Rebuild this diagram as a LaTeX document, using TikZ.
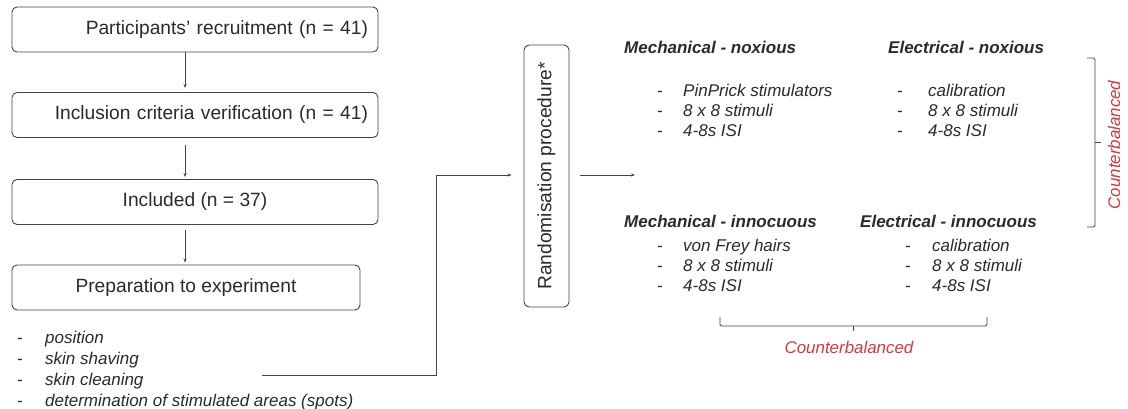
\documentclass[tikz,border=0pt]{standalone}
\usepackage{fontspec}
\setmainfont{Liberation Sans}
\usetikzlibrary{arrows.meta}
\definecolor{ink}{HTML}{2A2A2A}
\definecolor{linegray}{HTML}{444444}
\definecolor{cbred}{HTML}{D8383A}
\tikzset{
  x=1pt, y=-1pt,
  stepbox/.style={draw=linegray, line width=0.9pt, rounded corners=5pt, text=ink,
    minimum height=45pt, font=\fontsize{19.2}{22}\selectfont},
  flow/.style={draw=linegray, line width=0.8pt, -{Stealth[length=4pt,width=3pt]}},
  brace/.style={draw=linegray, line width=0.9pt},
  heading/.style={anchor=base west, inner sep=0pt, text=ink, font=\fontsize{17}{20}\selectfont\bfseries\itshape},
  items/.style={anchor=north west, inner sep=0pt, align=left, text=ink, font=\fontsize{17}{20}\selectfont\itshape},
  cb/.style={text=cbred, inner sep=0pt, font=\fontsize{16.9}{20}\selectfont\itshape},
}
\newcommand{\itm}[2][26pt]{\makebox[#1][l]{\upshape -}#2}
\begin{document}
\begin{tikzpicture}
\useasboundingbox (0,0) rectangle (1128,409);

% left column of steps
\node[stepbox, minimum width=366pt, text width=346pt, align=right] (recruit) at (195,29.5) {Participants’ recruitment (n = 41)};
\node[stepbox, minimum width=366pt, text width=346pt, align=right] (incl) at (195,115) {Inclusion criteria verification (n = 41)};
\node[stepbox, minimum width=366pt] (included) at (195,202) {Included (n = 37)};
\node[stepbox, minimum width=348pt] (prep) at (186,287.5) {Preparation to experiment};

\draw[flow, shorten <=0pt, shorten >=4pt] (recruit.south -| 185,0) -- (incl.north -| 185,0);
\draw[flow, shorten <=7pt, shorten >=2pt] (incl.south -| 185,0) -- (included.north -| 185,0);
\draw[flow, shorten <=5pt, shorten >=2pt] (included.south -| 185,0) -- (prep.north -| 185,0);

% preparation details
\node[items, font=\fontsize{17}{21}\selectfont\itshape] (prepitems) at (17,330.5) {%
  \itm[28pt]{position}\\
  \itm[28pt]{skin shaving}\\
  \itm[28pt]{skin cleaning}\\
  \itm[28pt]{determination of stimulated areas (spots)}};

% randomisation
\node[stepbox, minimum width=45pt, minimum height=262pt, inner sep=0pt] (rand) at (546.5,176)
  {\rotatebox{90}{Randomisation procedure*}};

\coordinate (prepend) at (262,375);
\coordinate (turn) at (436,175);
\coordinate (split) at (635,175);
\draw[flow, shorten >=12pt] (prepend) -| (turn) -- (turn -| rand.west);
\draw[flow, shorten <=11pt] (rand.east |- split) -- (split);

% conditions
\node[heading] (mechnox) at (624,54) {Mechanical - noxious};
\node[heading] (elecnox) at (888,54) {Electrical - noxious};
\node[heading] (mechinn) at (624,228) {Mechanical - innocuous};
\node[heading] (elecinn) at (860,228) {Electrical - innocuous};

\node[items] (mechnoxitems) at (657,83.5) {\itm{PinPrick stimulators}\\ \itm{8 x 8 stimuli}\\ \itm{4-8s ISI}};
\node[items] (elecnoxitems) at (897,83.5) {\itm[31pt]{calibration}\\ \itm[31pt]{8 x 8 stimuli}\\ \itm[31pt]{4-8s ISI}};
\node[items] (mechinnitems) at (657,238.5) {\itm{von Frey hairs}\\ \itm{8 x 8 stimuli}\\ \itm{4-8s ISI}};
\node[items] (elecinnitems) at (905,238.5) {\itm[27pt]{calibration}\\ \itm[27pt]{8 x 8 stimuli}\\ \itm[27pt]{4-8s ISI}};

% counterbalancing brackets
\coordinate (rbtop) at (1095,58);
\coordinate (rbbot) at (1095,227);
\coordinate (rbmid) at (1095,142);
\draw[brace, rounded corners=1.5pt] (1087,58) -- (rbtop) -- (rbbot) -- (1087,227);
\draw[brace] (rbmid) -- ++(6,0);
\node[cb, rotate=90] (cbright) at (1114,145) {Counterbalanced};

\coordinate (bbleft) at (720,326);
\coordinate (bbright) at (987,326);
\coordinate (bbmid) at (853,326);
\draw[brace, rounded corners=1.5pt] (720,317) -- (bbleft) -- (bbright) -- (987,317);
\draw[brace] (bbmid) -- ++(0,5);
\node[cb] (cbbottom) at (849,347) {Counterbalanced};
\end{tikzpicture}
\end{document}
